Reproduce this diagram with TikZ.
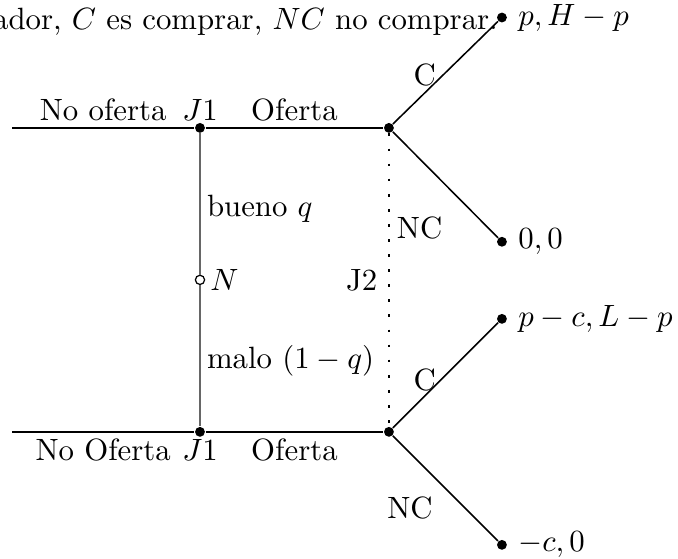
\documentclass[tikz,border=0pt]{standalone}
\usepackage{amsmath}
\usepackage{amssymb}
\usepackage{tikz}
\usetikzlibrary{
  arrows.meta,  % puntas de flecha
  calc          % calculo de coordenadas
}
\tikzset{
  decision dot/.style={
    circle,
    fill=black,
    inner sep=0pt,
    minimum size=3.2pt
  },
  chance dot/.style={
    circle,
    draw=black,
    fill=white,
    line width=0.4pt,
    inner sep=0pt,
    minimum size=3pt
  },
  branch/.style={
    line width=0.5pt
  },
  nature line/.style={
    black!60,
    line width=0.6pt
  },
  info set/.style={
    line width=0.9pt,
    dash pattern=on 0.9pt off 4pt
  },
  move label/.style={
    inner sep=2pt
  },
  nature label/.style={
    text=black,
    inner sep=2pt,
    yshift=-1.5pt
  }
}

\begin{document}
\begin{tikzpicture}
    \useasboundingbox (0,0) rectangle (7.74,6.38);
    \clip (0,0) rectangle (7.74,6.38);

    % 0. texto cortado arriba
    \node[anchor=base east, inner sep=0pt] (texto) at (5.69,6.04)
      {ador, $C$ es comprar, $NC$ no comprar.};

    % 1. nodos de decision del jugador 1 y naturaleza
    \coordinate (L1) at (0.137,4.92);
    \coordinate (L2) at (0.137,1.45);
    \node[decision dot, label={[inner sep=0.5pt]above:$J1$}] (J1a) at (2.283,4.92) {};
    \node[decision dot, label={[inner sep=0.5pt]below:$J1$}] (J1b) at (2.283,1.45) {};
    \node[chance dot, label={[inner sep=1.5pt]right:$N$}] (N) at (2.283,3.185) {};

    % 2. nodos del jugador 2
    \node[decision dot] (J2a) at (4.44,4.92) {};
    \node[decision dot] (J2b) at (4.44,1.45) {};

    % 3. nodos terminales con pagos
    \node[decision dot, label=right:{$p, H-p$}] (T1) at ([shift={(1.29,1.26)}]J2a) {};
    \node[decision dot, label=right:{$0, 0$}] (T2) at ([shift={(1.29,-1.30)}]J2a) {};
    \node[decision dot, label=right:{$p-c, L-p$}] (T3) at ([shift={(1.29,1.29)}]J2b) {};
    \node[decision dot, label=right:{$-c, 0$}] (T4) at ([shift={(1.29,-1.29)}]J2b) {};

    % 4. naturaleza: bueno / malo
    \draw[nature line] (J1a) -- node[midway, right, nature label] {bueno $q$} (N);
    \draw[nature line] (N) -- node[midway, right, nature label] {malo $(1-q)$} (J1b);

    % 5. ofertas del jugador 1
    \draw[branch] (L1) -- node[above, move label] {No oferta} (J1a)
                        -- node[above, move label] {Oferta} (J2a);
    \draw[branch] (L2) -- node[below, move label] {No Oferta} (J1b)
                        -- node[below, move label] {Oferta} (J2b);

    % 6. conjunto de informacion del jugador 2
    \draw[info set] (J2a) -- node[left] {J2} (J2b);

    % 7. comprar / no comprar
    \draw[branch] (J2a) -- (T1);
    \draw[branch] (J2a) -- (T2);
    \draw[branch] (J2b) -- (T3);
    \draw[branch] (J2b) -- (T4);
    \node (C1) at (4.85,5.52) {C};
    \node (NC1) at (4.79,3.78) {NC};
    \node (C2) at (4.85,2.04) {C};
    \node (NC2) at (4.68,0.58) {NC};

\end{tikzpicture}
\end{document}
